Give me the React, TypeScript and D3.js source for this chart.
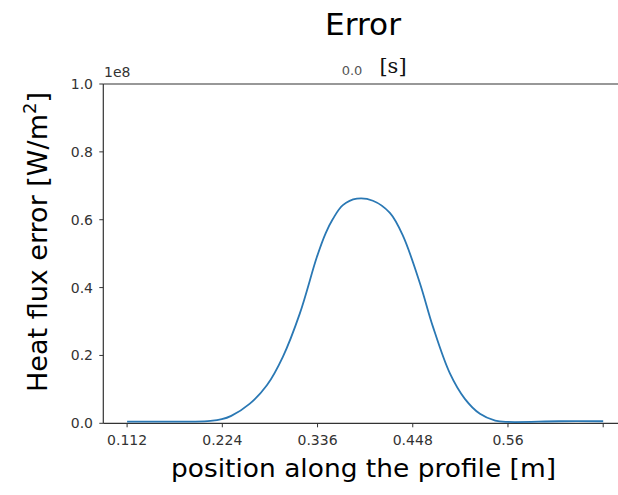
import React from "react";
import * as d3 from "d3";

const positions = [0.112, 0.15, 0.19, 0.21, 0.2234, 0.2345, 0.2564, 0.2764, 0.2952, 0.3152, 0.3352, 0.3455, 0.354, 0.3658, 0.3823, 0.4011, 0.4211, 0.4364, 0.4564, 0.4717, 0.4917, 0.5093, 0.527, 0.545, 0.56, 0.62, 0.672];
const errorValues = [0.005, 0.005, 0.005, 0.007, 0.012, 0.022, 0.058, 0.112, 0.196, 0.324, 0.49, 0.56, 0.602, 0.643, 0.662, 0.656, 0.62, 0.553, 0.413, 0.285, 0.147, 0.072, 0.028, 0.008, 0.004, 0.006, 0.006].map((v) => v * 1e8);
const xTicks = [0.112, 0.224, 0.336, 0.448, 0.56, 0.672];
const xTickLabels = ["0.112", "0.224", "0.336", "0.448", "0.56", ""];
const yTicks = [0, 0.2e8, 0.4e8, 0.6e8, 0.8e8, 1e8];
const yTickLabels = ["0.0", "0.2", "0.4", "0.6", "0.8", "1.0"];

const W = 618;
const H = 495;
const left = 103.3;
const right = 627;
const top = 84;
const bottom = 423.3;

export default function App() {
  const x = d3.scaleLinear().domain([0.084, 0.7]).range([left, right]);
  const y = d3.scaleLinear().domain([0, 1e8]).range([bottom, top]);
  const data = positions.map((p, i) => [p, errorValues[i]] as [number, number]);
  const line = d3
    .line<[number, number]>()
    .x((d) => x(d[0]))
    .y((d) => y(d[1]))
    .curve(d3.curveCatmullRom.alpha(0.5));
  const tickFont = "DejaVu Sans, sans-serif";
  const axisColor = "#333";
  return (
    <div style={{ position: "absolute", left: 0, top: 0, width: W, height: H, overflow: "hidden" }}>
      <svg width={W} height={H} style={{ display: "block", background: "#fff" }}>
        <rect x={0} y={0} width={W} height={H} fill="#fff" />
        <text x={363} y={35} fontSize={31} fontFamily="DejaVu Sans, sans-serif" textAnchor="middle" fill="#000" textLength={76} lengthAdjust="spacingAndGlyphs">
          Error
        </text>
        <text x={352} y={75} fontSize={13} fontFamily={tickFont} textAnchor="middle" fill="#555">
          0.0
        </text>
        <text x={393} y={73} fontSize={21} fontFamily="DejaVu Serif, serif" textAnchor="middle" fill="#111">
          [s]
        </text>
        <text x={104} y={77} fontSize={14} fontFamily={tickFont} fill="#333">
          1e8
        </text>
        {/* spines */}
        <line x1={left} x2={left} y1={top} y2={bottom} stroke={axisColor} strokeWidth={1.2} />
        <line x1={left} x2={W} y1={bottom} y2={bottom} stroke={axisColor} strokeWidth={1.2} />
        <line x1={left} x2={W} y1={top} y2={top} stroke={axisColor} strokeWidth={1.2} />
        {/* y ticks */}
        {yTicks.map((t, i) => (
          <g key={"y" + i}>
            <line x1={left - 4} x2={left} y1={y(t)} y2={y(t)} stroke={axisColor} strokeWidth={1} />
            <text x={93} y={y(t) + 5} fontSize={14} fontFamily={tickFont} textAnchor="end" fill="#333">
              {yTickLabels[i]}
            </text>
          </g>
        ))}
        {/* x ticks */}
        {xTicks.map((t, i) => (
          <g key={"x" + i}>
            <line x1={x(t)} x2={x(t)} y1={bottom} y2={bottom + 4} stroke={axisColor} strokeWidth={1} />
            <text x={x(t)} y={445} fontSize={14} fontFamily={tickFont} textAnchor="middle" fill="#333">
              {xTickLabels[i]}
            </text>
          </g>
        ))}
        <path d={line(data) || ""} fill="none" stroke="#2a78b4" strokeWidth={1.8} />
        <text x={363.5} y={477} fontSize={25} fontFamily="DejaVu Sans, sans-serif" textAnchor="middle" fill="#000" textLength={385} lengthAdjust="spacingAndGlyphs">
          position along the profile [m]
        </text>
        <text
          transform="translate(47,242) rotate(-90)"
          fontSize={27}
          fontFamily="DejaVu Sans, sans-serif"
          textAnchor="middle"
          fill="#000"
        >
          Heat flux error [W/m
          <tspan fontSize={18} dy={-11}>2</tspan>
          <tspan dy={11}>]</tspan>
        </text>
      </svg>
    </div>
  );
}
